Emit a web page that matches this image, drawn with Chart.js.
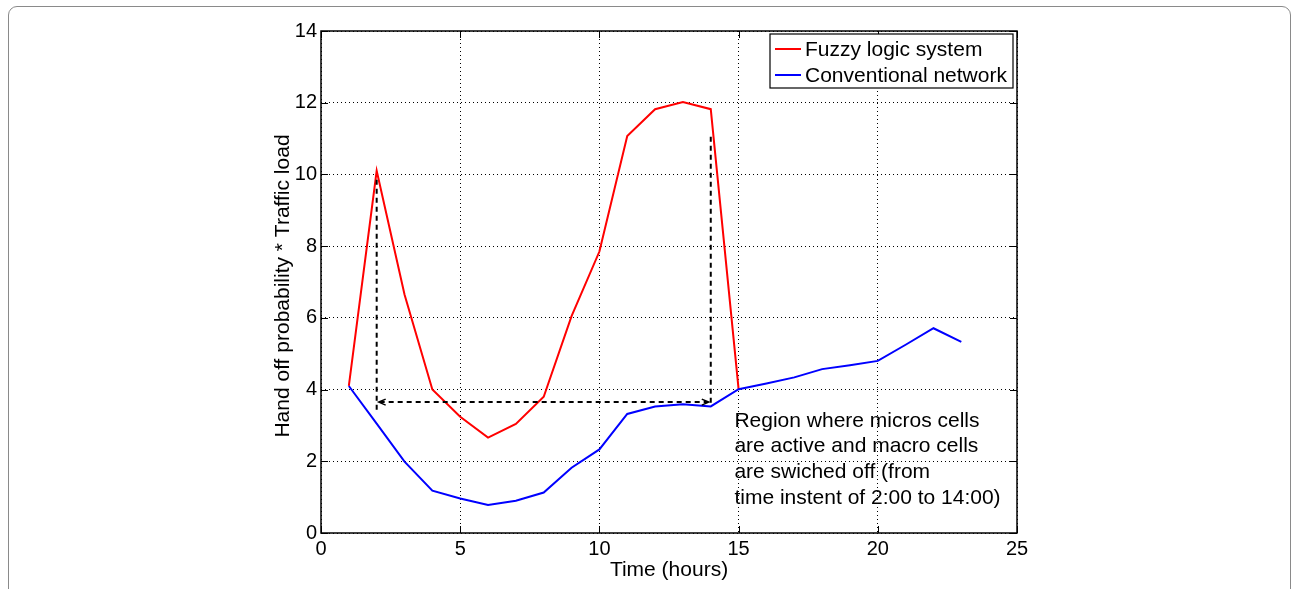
<!DOCTYPE html>
<html>
<head>
<meta charset="utf-8">
<script src="https://cdn.jsdelivr.net/npm/chart.js@4.4.0/dist/chart.umd.min.js"></script>
<style>
  html, body { margin: 0; padding: 0; background: #fff; overflow: hidden; }
  #frame {
    position: absolute; left: 8px; top: 6px; width: 1281px; height: 700px;
    border: 1px solid #8a8a8a; border-radius: 9px;
  }
  #wrap { position: absolute; left: 0; top: 0; width: 1292px; height: 589px; }
</style>
</head>
<body>
<div id="frame"></div>
<div id="wrap"><canvas id="myChart" width="1292" height="589"></canvas></div>
<script>
// hours of the day
const fuzzyHours = [1, 2, 3, 4, 5, 6, 7, 8, 9, 10, 11, 12, 13, 14, 15];
const fuzzyLoad = [4.10, 10.10, 6.65, 4.00, 3.24, 2.66, 3.04, 3.80, 6.05, 7.85, 11.07, 11.82, 12.02, 11.82, 4.01];

const convHours = [1, 2, 3, 4, 5, 6, 7, 8, 9, 10, 11, 12, 13, 14, 15, 16, 17, 18, 19, 20, 21, 22, 23];
const convLoad = [4.10, 3.05, 1.99, 1.18, 0.96, 0.78, 0.90, 1.13, 1.82, 2.33, 3.32, 3.53, 3.59, 3.53, 4.01, 4.17, 4.34, 4.57, 4.68, 4.80, 5.25, 5.71, 5.33];

const xTicks = [0, 5, 10, 15, 20, 25];
const yTicks = [0, 2, 4, 6, 8, 10, 12, 14];

// dashed markers of the micro cell region (2:00 to 14:00)
const regionStart = [2, 9.85, 3.42];   // x, top y, bottom y
const regionEnd = [14, 11.05, 3.62];
const arrowLevel = 3.65;
const noteAt = [14.85, 3.13];
const noteLines = [
  'Region where micros cells',
  'are active and macro cells',
  'are swiched off (from',
  'time instent of 2:00 to 14:00)'
];

const FONT = '"Liberation Sans", Arial, Helvetica, sans-serif';

function toPoints(xs, ys) {
  return xs.map((x, i) => ({ x: x, y: ys[i] }));
}

const extras = {
  id: 'extras',
  afterDatasetsDraw(chart) {
    const ctx = chart.ctx;
    const xs = chart.scales.x, ys = chart.scales.y;

    // dashed region markers
    ctx.save();
    ctx.strokeStyle = '#000';
    ctx.lineWidth = 2;
    ctx.setLineDash([5, 4]);
    for (const m of [regionStart, regionEnd]) {
      ctx.beginPath();
      ctx.moveTo(xs.getPixelForValue(m[0]), ys.getPixelForValue(m[1]));
      ctx.lineTo(xs.getPixelForValue(m[0]), ys.getPixelForValue(m[2]));
      ctx.stroke();
    }
    const x1 = xs.getPixelForValue(regionStart[0]);
    const x2 = xs.getPixelForValue(regionEnd[0]);
    const yA = ys.getPixelForValue(arrowLevel);
    ctx.beginPath();
    ctx.moveTo(x1 + 3, yA);
    ctx.lineTo(x2 - 3, yA);
    ctx.stroke();
    ctx.setLineDash([]);
    ctx.lineWidth = 1.5;
    ctx.beginPath();
    ctx.moveTo(x1 + 9, yA - 3); ctx.lineTo(x1 + 2, yA); ctx.lineTo(x1 + 9, yA + 3);
    ctx.moveTo(x2 - 9, yA - 3); ctx.lineTo(x2 - 2, yA); ctx.lineTo(x2 - 9, yA + 3);
    ctx.stroke();
    ctx.restore();

    // note text
    ctx.save();
    ctx.fillStyle = '#000';
    ctx.font = '21px ' + FONT;
    ctx.textBaseline = 'middle';
    const nx = xs.getPixelForValue(noteAt[0]);
    const ny = ys.getPixelForValue(noteAt[1]);
    noteLines.forEach((t, i) => ctx.fillText(t, nx, ny + i * 25.7));
    ctx.restore();
  },
  afterDraw(chart) {
    const ctx = chart.ctx;
    const xs = chart.scales.x, ys = chart.scales.y;
    const a = chart.chartArea;
    ctx.save();
    // box
    ctx.strokeStyle = '#000';
    ctx.lineWidth = 1.5;
    ctx.strokeRect(a.left, a.top, a.right - a.left, a.bottom - a.top);
    // inward ticks
    ctx.lineWidth = 1;
    ctx.beginPath();
    for (const v of xTicks) {
      const px = Math.round(xs.getPixelForValue(v)) + 0.5;
      ctx.moveTo(px, a.bottom); ctx.lineTo(px, a.bottom - 7);
      ctx.moveTo(px, a.top); ctx.lineTo(px, a.top + 7);
    }
    for (const v of yTicks) {
      const py = Math.round(ys.getPixelForValue(v)) + 0.5;
      ctx.moveTo(a.left, py); ctx.lineTo(a.left + 7, py);
      ctx.moveTo(a.right, py); ctx.lineTo(a.right - 7, py);
    }
    ctx.stroke();

    // axis titles
    ctx.fillStyle = '#000';
    ctx.font = '21px ' + FONT;
    ctx.textAlign = 'center';
    ctx.textBaseline = 'middle';
    ctx.fillText('Time (hours)', (a.left + a.right) / 2, a.bottom + 37);
    ctx.translate(a.left - 38, (a.top + a.bottom) / 2 + 4);
    ctx.rotate(-Math.PI / 2);
    ctx.fillText('Hand off probability * Traffic load', 0, 0);
    ctx.restore();

    // legend
    ctx.save();
    const bw = 243, bh = 54;
    const bx = a.right - 4 - bw, by = a.top + 3;
    ctx.fillStyle = '#fff';
    ctx.fillRect(bx, by, bw, bh);
    ctx.strokeStyle = '#000';
    ctx.lineWidth = 1.2;
    ctx.strokeRect(bx, by, bw, bh);
    ctx.font = '21px ' + FONT;
    ctx.textBaseline = 'middle';
    chart.data.datasets.forEach((ds, i) => {
      const ly = by + 15 + i * 26;
      ctx.strokeStyle = ds.borderColor;
      ctx.lineWidth = 2;
      ctx.beginPath();
      ctx.moveTo(bx + 5, ly); ctx.lineTo(bx + 31, ly);
      ctx.stroke();
      ctx.fillStyle = '#000';
      ctx.fillText(ds.label, bx + 35, ly + 1);
    });
    ctx.restore();
  }
};

new Chart(document.getElementById('myChart'), {
  type: 'line',
  data: {
    datasets: [
      {
        label: 'Fuzzy logic system',
        data: toPoints(fuzzyHours, fuzzyLoad),
        borderColor: '#ff0000',
        borderWidth: 2,
        pointRadius: 0,
        tension: 0,
        order: 1
      },
      {
        label: 'Conventional network',
        data: toPoints(convHours, convLoad),
        borderColor: '#0000ff',
        borderWidth: 2,
        pointRadius: 0,
        tension: 0,
        order: 0
      }
    ]
  },
  options: {
    responsive: false,
    animation: false,
    layout: { padding: { left: 0, top: 31, right: 275, bottom: 0 } },
    plugins: { legend: { display: false }, tooltip: { enabled: false } },
    scales: {
      x: {
        type: 'linear',
        min: 0, max: 25,
        afterFit(s) { s.height = 56; },
        afterBuildTicks(s) { s.ticks = xTicks.map(v => ({ value: v })); },
        ticks: { color: '#000', font: { family: FONT, size: 20 }, padding: 4, maxRotation: 0 },
        grid: { color: '#000', lineWidth: 1, drawTicks: false },
        border: { display: false, dash: [1, 3] }
      },
      y: {
        type: 'linear',
        min: 0, max: 14,
        afterFit(s) { s.width = 321; },
        afterBuildTicks(s) { s.ticks = yTicks.map(v => ({ value: v })); },
        ticks: { color: '#000', font: { family: FONT, size: 20 }, padding: 4 },
        grid: { color: '#000', lineWidth: 1, drawTicks: false },
        border: { display: false, dash: [1, 3] }
      }
    }
  },
  plugins: [extras]
});
</script>
</body>
</html>
